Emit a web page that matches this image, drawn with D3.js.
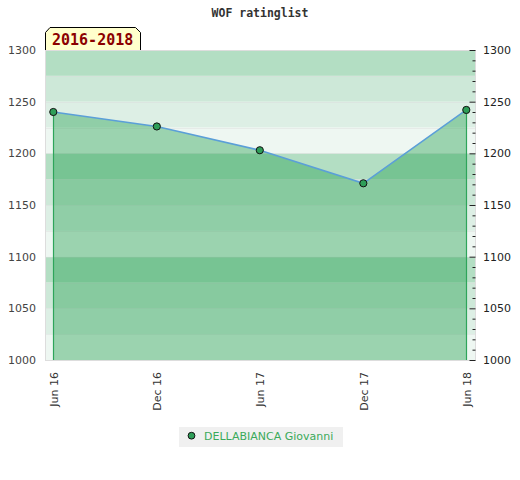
<!DOCTYPE html>
<html>
<head>
<meta charset="utf-8">
<script src="https://cdn.jsdelivr.net/npm/d3@7"></script>
<style>
  html, body { margin: 0; padding: 0; background: #ffffff; }
  svg { display: block; }
</style>
</head>
<body>
<script>
// ---- data ----
const title = "WOF ratinglist";
const periodLabel = "2016-2018";
const seriesName = "DELLABIANCA Giovanni";
const dates = ["2016-06-01", "2016-12-01", "2017-06-01", "2017-12-01", "2018-06-01"];
const tickLabels = ["Jun 16", "Dec 16", "Jun 17", "Dec 17", "Jun 18"];
const ratings = [1240, 1226, 1203, 1171, 1242];
const yTicks = [1000, 1050, 1100, 1150, 1200, 1250, 1300];
const bandColors = ["#eef7f2", "#ddefe5", "#cde8d8", "#b3dec3"];

const W = 520, H = 480;
const plot = { left: 45, right: 476, top: 50, bottom: 360 };
const parse = d3.timeParse("%Y-%m-%d");
const data = dates.map((d, i) => ({ date: parse(d), value: ratings[i], label: tickLabels[i] }));

const svg = d3.select("body").append("svg").attr("width", W).attr("height", H);

const x = d3.scaleTime()
  .domain([parse(dates[0]), parse(dates[dates.length - 1])])
  .range([53.3, 466.3]);
const y = d3.scaleLinear().domain([1000, 1300]).range([plot.bottom, plot.top]);

// background bands every 25
const bands = d3.range(1000, 1300, 25);
svg.append("g").selectAll("rect").data(bands).join("rect")
  .attr("x", plot.left)
  .attr("width", plot.right - plot.left)
  .attr("y", d => y(d + 25))
  .attr("height", d => y(d) - y(d + 25))
  .attr("fill", d => bandColors[((d - 1000) / 25) % 4]);

// faint grid lines at band boundaries
svg.append("g").selectAll("line").data(d3.range(1025, 1300, 25)).join("line")
  .attr("x1", plot.left).attr("x2", plot.right)
  .attr("y1", d => Math.round(y(d)) + 0.5).attr("y2", d => Math.round(y(d)) + 0.5)
  .attr("stroke", "#dcdcdc").attr("stroke-opacity", 0.45);

// area
const area = d3.area().x(d => x(d.date)).y0(y(1000)).y1(d => y(d.value));
svg.append("path").datum(data)
  .attr("d", area)
  .attr("fill", "rgb(30,157,75)")
  .attr("fill-opacity", 0.4);

// vertical edges of area
svg.append("g").selectAll("line").data([data[0], data[data.length - 1]]).join("line")
  .attr("x1", d => Math.round(x(d.date)) + 0.5).attr("x2", d => Math.round(x(d.date)) + 0.5)
  .attr("y1", d => y(d.value)).attr("y2", plot.bottom)
  .attr("stroke", "#2ea55a").attr("stroke-width", 1.2);

// line
const line = d3.line().x(d => x(d.date)).y(d => y(d.value));
svg.append("path").datum(data)
  .attr("d", line)
  .attr("fill", "none")
  .attr("stroke", "#5b9fd8")
  .attr("stroke-width", 1.5);

// plot border
svg.append("rect")
  .attr("x", plot.left + 0.5).attr("y", plot.top + 0.5)
  .attr("width", plot.right - plot.left - 1).attr("height", plot.bottom - plot.top)
  .attr("fill", "none").attr("stroke", "#dddddd");

// markers
svg.append("g").selectAll("circle").data(data).join("circle")
  .attr("cx", d => x(d.date)).attr("cy", d => y(d.value))
  .attr("r", 3.6)
  .attr("fill", "#2e9e58").attr("stroke", "#111").attr("stroke-width", 1);

// left axis labels
svg.append("g").selectAll("text").data(yTicks).join("text")
  .attr("x", 36).attr("y", d => y(d))
  .attr("dy", "0.35em")
  .attr("text-anchor", "end")
  .attr("font-family", "DejaVu Sans, sans-serif").attr("font-size", 11)
  .attr("fill", "#444")
  .text(d => d);

// right axis: minor ticks (10) and major ticks (50)
const rAxisMinor = d3.axisLeft(y).tickValues(d3.range(1000, 1301, 10).filter(v => v % 50 !== 0)).tickSize(3).tickFormat("");
const gMinor = svg.append("g").attr("transform", `translate(${plot.right - 0.5},0)`).call(rAxisMinor);
gMinor.select(".domain").remove();
gMinor.selectAll("line").attr("stroke", "#222");
const rAxisMajor = d3.axisLeft(y).tickValues(yTicks).tickSize(6).tickFormat("");
const gMajor = svg.append("g").attr("transform", `translate(${plot.right - 0.5},0)`).call(rAxisMajor);
gMajor.select(".domain").remove();
gMajor.selectAll("line").attr("stroke", "#222");

svg.append("g").selectAll("text").data(yTicks).join("text")
  .attr("x", 483).attr("y", d => y(d))
  .attr("dy", "0.35em")
  .attr("text-anchor", "start")
  .attr("font-family", "DejaVu Sans, sans-serif").attr("font-size", 11)
  .attr("fill", "#222")
  .text(d => d);

// x axis labels (rotated)
const xAxis = d3.axisBottom(x).tickValues(data.map(d => d.date))
  .tickFormat((d, i) => tickLabels[i]).tickSize(0);
const gx = svg.append("g").attr("transform", `translate(0,${plot.bottom})`).call(xAxis);
gx.select(".domain").remove();
gx.selectAll("text")
  .attr("font-family", "DejaVu Sans, sans-serif").attr("font-size", 11)
  .attr("fill", "#333")
  .attr("text-anchor", "end")
  .attr("transform", "rotate(-90)")
  .attr("x", -12).attr("y", 0).attr("dy", "0.35em");

// title
svg.append("text")
  .attr("x", 260).attr("y", 17)
  .attr("text-anchor", "middle")
  .attr("font-family", "DejaVu Sans Mono, monospace").attr("font-size", 11.5)
  .attr("font-weight", "bold")
  .attr("fill", "#333")
  .text(title);

// period label box
const bx0 = 45, bx1 = 140.5, by0 = 27.5, by1 = 50, ch = 5;
svg.append("path")
  .attr("d", `M${bx0 + 0.5},${by1} L${bx0 + 0.5},${by0 + ch} L${bx0 + ch},${by0} L${bx1 - ch},${by0} L${bx1},${by0 + ch} L${bx1},${by1}`)
  .attr("fill", "#ffffcc").attr("stroke", "#000").attr("stroke-width", 1);
svg.append("text")
  .attr("x", 52).attr("y", 45)
  .attr("font-family", "DejaVu Sans Mono, monospace").attr("font-size", 15)
  .attr("font-weight", "bold")
  .attr("fill", "#8b0000")
  .text(periodLabel);

// legend
const lg = svg.append("g");
lg.append("rect").attr("x", 179).attr("y", 427).attr("width", 164).attr("height", 20).attr("fill", "#f0f0f0");
lg.append("circle").attr("cx", 191.5).attr("cy", 435.7).attr("r", 3.4)
  .attr("fill", "#2e9e58").attr("stroke", "#111").attr("stroke-width", 1);
lg.append("text").attr("x", 204).attr("y", 436)
  .attr("dy", "0.35em")
  .attr("font-family", "DejaVu Sans, sans-serif").attr("font-size", 11)
  .attr("fill", "#3aaa5a")
  .text(seriesName);
</script>
</body>
</html>
